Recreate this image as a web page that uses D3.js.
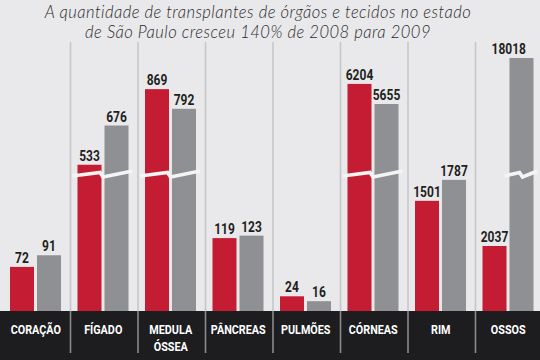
<!DOCTYPE html>
<html><head><meta charset="utf-8">
<script src="https://cdn.jsdelivr.net/npm/d3@7"></script>
<style>
html,body{margin:0;padding:0;background:#e9e9eb;}
svg{display:block;}
</style></head>
<body>
<svg id="c" width="540" height="360"></svg>
<script>
// ---- data ----
const categories = ["CORAÇÃO","FÍGADO","MEDULA ÓSSEA","PÂNCREAS","PULMÕES","CÓRNEAS","RIM","OSSOS"];
const series = ["2008","2009"];
const values2008 = [72, 533, 869, 119, 24, 6204, 1501, 2037];
const values2009 = [91, 676, 792, 123, 16, 5655, 1787, 18018];
// each panel of the original uses its own (broken) vertical scale: top of domain per panel
const panelDomainMax = [413, 922, 991, 413, 413, 6912, 3447, 7928];
// bars drawn with a broken-axis mark
const broken2008 = [false, true, true, false, false, true, false, false];
const broken2009 = [false, true, true, false, false, true, false, true];
const titleLines = ["A quantidade de transplantes de órgãos e tecidos no estado",
                    "de São Paulo cresceu 140% de 2008 para 2009"];

// ---- layout ----
const W = 540, H = 360, baseY = 311, plotTop = 58, breakY = 173;
const colors = {"2008": "#c41d33", "2009": "#8f9094"};
const condFont = "Roboto, 'Liberation Sans', sans-serif";
const numScale = 0.8, catScale = 0.8;

const svg = d3.select("#c");
svg.append("rect").attr("width", W).attr("height", H).attr("fill", "#e9e9eb");

const x0 = d3.scaleBand().domain(categories).range([3, 543]).paddingInner(0).paddingOuter(0);
const x1 = d3.scaleBand().domain(series).range([7, 58]).paddingInner(3 / 27).paddingOuter(0);

const rows = categories.map((c, i) => ({
  cat: c, i,
  yScale: d3.scaleLinear().domain([0, panelDomainMax[i]]).range([baseY, plotTop]).clamp(true),
  bars: [
    {s: "2008", v: values2008[i], broken: broken2008[i]},
    {s: "2009", v: values2009[i], broken: broken2009[i]}
  ]
}));

// bottom black band
svg.append("rect").attr("x", 0).attr("y", baseY).attr("width", W).attr("height", H - baseY).attr("fill", "#1d1d1f");

// separators
const seps = categories.slice(1);
svg.append("g").selectAll("line").data(seps).join("line")
  .attr("x1", d => x0(d)).attr("x2", d => x0(d))
  .attr("y1", 42).attr("y2", baseY)
  .attr("stroke", "#c6c7c9").attr("stroke-width", 1.6);
svg.append("g").selectAll("line").data(seps).join("line")
  .attr("x1", d => x0(d)).attr("x2", d => x0(d))
  .attr("y1", baseY).attr("y2", 353)
  .attr("stroke", "#8a8a8c").attr("stroke-width", 1.6);

// bars
const panels = svg.append("g").selectAll("g").data(rows).join("g")
  .attr("transform", d => `translate(${x0(d.cat)},0)`);

panels.each(function(row) {
  const g = d3.select(this);
  const y = row.yScale;
  g.selectAll("rect.bar").data(row.bars).join("rect").attr("class", "bar")
    .attr("x", d => x1(d.s)).attr("width", x1.bandwidth())
    .attr("y", d => y(d.v)).attr("height", d => baseY - y(d.v))
    .attr("fill", d => colors[d.s]);

  // value labels (condensed by horizontal scaling)
  const panelLeft = x0(row.cat);
  g.selectAll("text.val").data(row.bars).join("text").attr("class", "val")
    .attr("text-anchor", "middle")
    .attr("font-family", condFont).attr("font-weight", "bold").attr("font-size", 15)
    .attr("fill", "#1f1f21")
    .text(d => d.v)
    .attr("transform", function(d) {
      const cx = x1(d.s) + x1.bandwidth() / 2;
      const w = this.getComputedTextLength() * numScale;
      const xx = Math.min(cx, W - 14 - panelLeft - w / 2);
      return `translate(${xx},${y(d.v) - 4}) scale(${numScale},1)`;
    });

  // broken-axis marks
  const br = row.bars.filter(d => d.broken);
  if (br.length) {
    const left = d3.min(br, d => x1(d.s)) - 5;
    const right = d3.max(br, d => x1(d.s) + x1.bandwidth()) + 4;
    const mid = (left + right) / 2 - (br.length === 1 ? 0 : 1);
    const pts = [[left, breakY + 3], [mid - 1.5, breakY - 0.5], [mid + 1.5, breakY + 4], [right, breakY - 2]];
    g.append("path").attr("d", d3.line()(pts))
      .attr("fill", "none").attr("stroke", "#f4f4f4").attr("stroke-width", 3.6)
      .attr("stroke-linejoin", "miter");
  }

  // category label
  const words = row.cat === "MEDULA ÓSSEA" ? ["MEDULA", "ÓSSEA"] : [row.cat];
  words.forEach((w, k) => {
    g.append("text").attr("text-anchor", "middle")
      .attr("font-family", condFont).attr("font-weight", "bold").attr("font-size", 13.5)
      .attr("fill", "#ffffff")
      .attr("transform", `translate(${x0.bandwidth() / 2 - 1},${334 + k * 17}) scale(${catScale},1)`)
      .text(w);
  });
});

// title
svg.append("g").selectAll("text").data(titleLines).join("text")
  .attr("x", 258).attr("y", (d, i) => 17.5 + i * 20)
  .attr("text-anchor", "middle")
  .attr("font-family", "Lato, 'Open Sans', sans-serif")
  .attr("font-style", "italic").attr("font-weight", 300).attr("font-size", 16.6)
  .attr("letter-spacing", 0.45)
  .attr("fill", "#2b2b2d")
  .text(d => d);
</script>
</body></html>
